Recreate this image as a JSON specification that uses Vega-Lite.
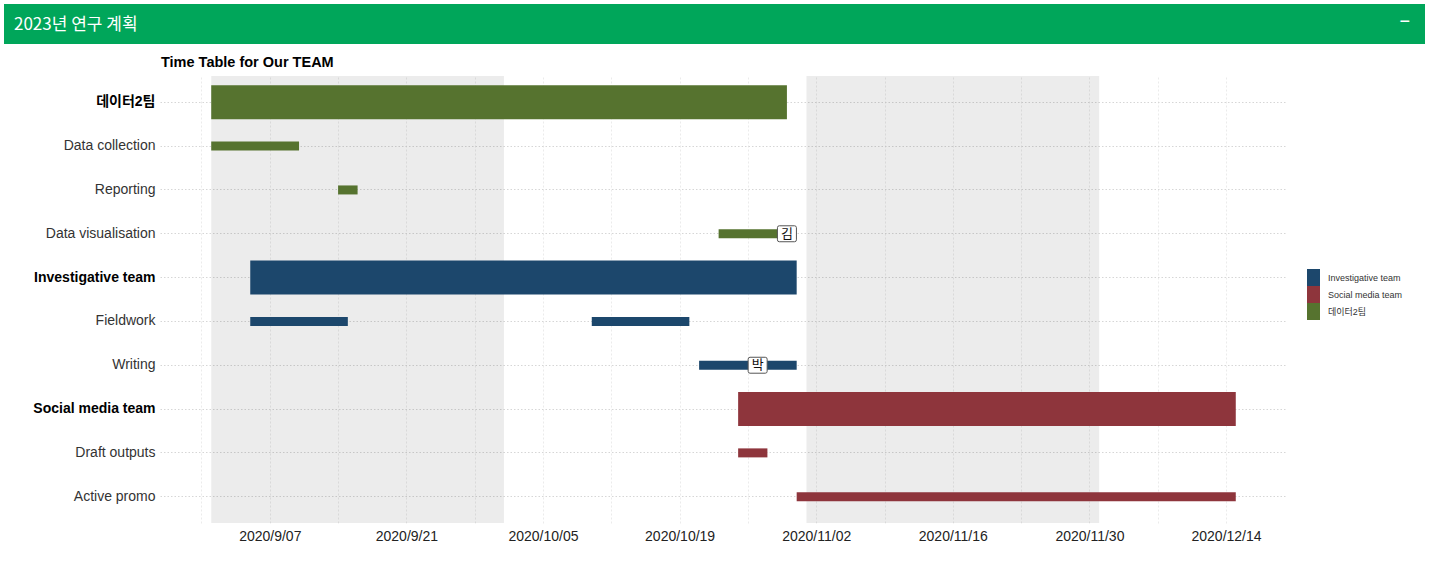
{
  "$schema": "https://vega.github.io/schema/vega-lite/v6.json",
  "background": "white",
  "padding": {"left": 4, "top": 4, "right": 5, "bottom": 5},
  "config": {"view": {"stroke": null}, "font": "Liberation Sans, Noto Sans CJK KR"},
  "datasets": {
    "tasks": [
      {"name": "데이터2팀", "team": "데이터2팀", "level": "group", "start": "2020-09-01", "end": "2020-10-30"},
      {"name": "Data collection", "team": "데이터2팀", "level": "task", "start": "2020-09-01", "end": "2020-09-10"},
      {"name": "Reporting", "team": "데이터2팀", "level": "task", "start": "2020-09-14", "end": "2020-09-16"},
      {"name": "Data visualisation", "team": "데이터2팀", "level": "task", "start": "2020-10-23", "end": "2020-10-30"},
      {"name": "Investigative team", "team": "Investigative team", "level": "group", "start": "2020-09-05", "end": "2020-10-31"},
      {"name": "Fieldwork", "team": "Investigative team", "level": "task", "start": "2020-09-05", "end": "2020-09-15"},
      {"name": "Fieldwork", "team": "Investigative team", "level": "task", "start": "2020-10-10", "end": "2020-10-20"},
      {"name": "Writing", "team": "Investigative team", "level": "task", "start": "2020-10-21", "end": "2020-10-31"},
      {"name": "Social media team", "team": "Social media team", "level": "group", "start": "2020-10-25", "end": "2020-12-15"},
      {"name": "Draft outputs", "team": "Social media team", "level": "task", "start": "2020-10-25", "end": "2020-10-28"},
      {"name": "Active promo", "team": "Social media team", "level": "task", "start": "2020-10-31", "end": "2020-12-15"}
    ],
    "months": [
      {"start": "2020-09-01", "end": "2020-10-01"},
      {"start": "2020-11-01", "end": "2020-12-01"}
    ],
    "labels": [
      {"name": "Data visualisation", "date": "2020-10-30", "who": "김"},
      {"name": "Writing", "date": "2020-10-27", "who": "박"}
    ],
    "header": [{"button": "−"}]
  },
  "spacing": 10,
  "resolve": {"scale": {"color": "independent"}, "legend": {"color": "independent"}},
  "vconcat": [
    {
      "width": 1421,
      "height": 40,
      "view": {"fill": "#00a65a", "stroke": null},
      "title": {"text": "2023년 연구 계획", "anchor": "start", "frame": "group", "orient": "top", "offset": -30, "dx": 10, "font": "Noto Sans CJK KR", "fontSize": 17, "fontWeight": "normal", "color": "white"},
      "data": {"name": "header"},
      "mark": {"type": "text", "color": "white", "fontSize": 18, "align": "right", "baseline": "middle", "dx": -15, "dy": -2, "font": "Liberation Sans"},
      "encoding": {"x": {"value": "width"}, "text": {"field": "button"}}
    },
    {
      "width": 1421,
      "height": 447,
      "title": {"text": "Time Table for Our TEAM", "anchor": "start", "frame": "group", "dx": 157, "fontSize": 14.5, "fontWeight": "bold", "color": "black", "offset": 6, "font": "Liberation Sans"},
      "layer": [
        {
          "data": {"name": "months"},
          "mark": {"type": "rect", "color": "black", "opacity": 0.075},
          "encoding": {
            "x": {
              "field": "start", "type": "temporal",
              "scale": {"type": "utc", "domain": [1598464800000, 1608444000000], "range": [156, 1283]},
              "axis": {
                "title": null, "ticks": false, "domain": false,
                "values": [1598832000000, 1599436800000, 1600041600000, 1600646400000, 1601251200000, 1601856000000, 1602460800000, 1603065600000, 1603670400000, 1604275200000, 1604880000000, 1605484800000, 1606089600000, 1606694400000, 1607299200000, 1607904000000],
                "labelExpr": "(round((datum.value - 1599436800000) / 86400000) % 14 == 0) ? utcFormat(datum.value, '%Y/%-m/%d') : ''",
                "labelFontSize": 14, "labelColor": "#222", "labelPadding": 6, "labelFlush": false, "labelOverlap": false,
                "gridDash": [2, 2], "gridColor": "#ebebeb"
              }
            },
            "x2": {"field": "end"}
          }
        },
        {
          "data": {"name": "tasks"},
          "transform": [{"filter": "datum.level == 'group'"}],
          "mark": {"type": "bar", "height": 34},
          "encoding": {
            "x": {"field": "start", "type": "temporal"},
            "x2": {"field": "end"},
            "y": {
              "field": "name", "type": "nominal",
              "scale": {"domain": ["데이터2팀", "Data collection", "Reporting", "Data visualisation", "Investigative team", "Fieldwork", "Writing", "Social media team", "Draft outputs", "Active promo"], "paddingInner": 0, "paddingOuter": 0.1},
              "axis": {
                "title": null, "ticks": false, "tickSize": 0, "domain": false, "bandPosition": 0.5, "grid": true,
                "labelFontSize": 14, "labelPadding": -151, "labelAlign": "right", "minExtent": 0, "maxExtent": 0,
                "labelColor": {"condition": {"test": "indexof(['데이터2팀','Investigative team','Social media team'], datum.value) >= 0", "value": "#000000"}, "value": "#333333"},
                "labelFontWeight": {"condition": {"test": "indexof(['데이터2팀','Investigative team','Social media team'], datum.value) >= 0", "value": "bold"}, "value": "normal"},
                "gridDash": [1.5, 2], "gridColor": "#d6d6d6", "gridWidth": 1
              }
            },
            "color": {
              "field": "team", "type": "nominal",
              "scale": {"domain": ["Investigative team", "Social media team", "데이터2팀"], "range": ["#1c476c", "#8e353c", "#56732f"]},
              "legend": {
                "title": null, "orient": "none", "legendX": 1301, "legendY": 193,
                "symbolType": "M-0.765,-1H0.765V1H-0.765Z", "symbolSize": 289, "symbolStrokeWidth": 0, "symbolOpacity": 1,
                "rowPadding": 0, "labelFontSize": 9, "labelOffset": 6, "labelColor": "#333",
                "labelFont": "Liberation Sans, Noto Sans CJK KR"
              }
            }
          }
        },
        {
          "data": {"name": "tasks"},
          "transform": [{"filter": "datum.level == 'task'"}],
          "mark": {"type": "bar", "height": 9},
          "encoding": {
            "x": {"field": "start", "type": "temporal"},
            "x2": {"field": "end"},
            "y": {"field": "name", "type": "nominal"},
            "color": {"field": "team", "type": "nominal"}
          }
        },
        {
          "data": {"name": "labels"},
          "mark": {"type": "point", "shape": "M-0.8,-0.84H0.8Q1,-0.84 1,-0.64V0.64Q1,0.84 0.8,0.84H-0.8Q-1,0.84 -1,0.64V-0.64Q-1,-0.84 -0.8,-0.84Z", "size": 361, "filled": true, "fill": "white", "stroke": "#555555", "strokeWidth": 1, "opacity": 1},
          "encoding": {
            "x": {"field": "date", "type": "temporal"},
            "y": {"field": "name", "type": "nominal"}
          }
        },
        {
          "data": {"name": "labels"},
          "mark": {"type": "text", "font": "Noto Sans CJK KR", "fontSize": 13, "color": "#111111", "baseline": "middle"},
          "encoding": {
            "x": {"field": "date", "type": "temporal"},
            "y": {"field": "name", "type": "nominal"},
            "text": {"field": "who"}
          }
        }
      ]
    }
  ]
}
